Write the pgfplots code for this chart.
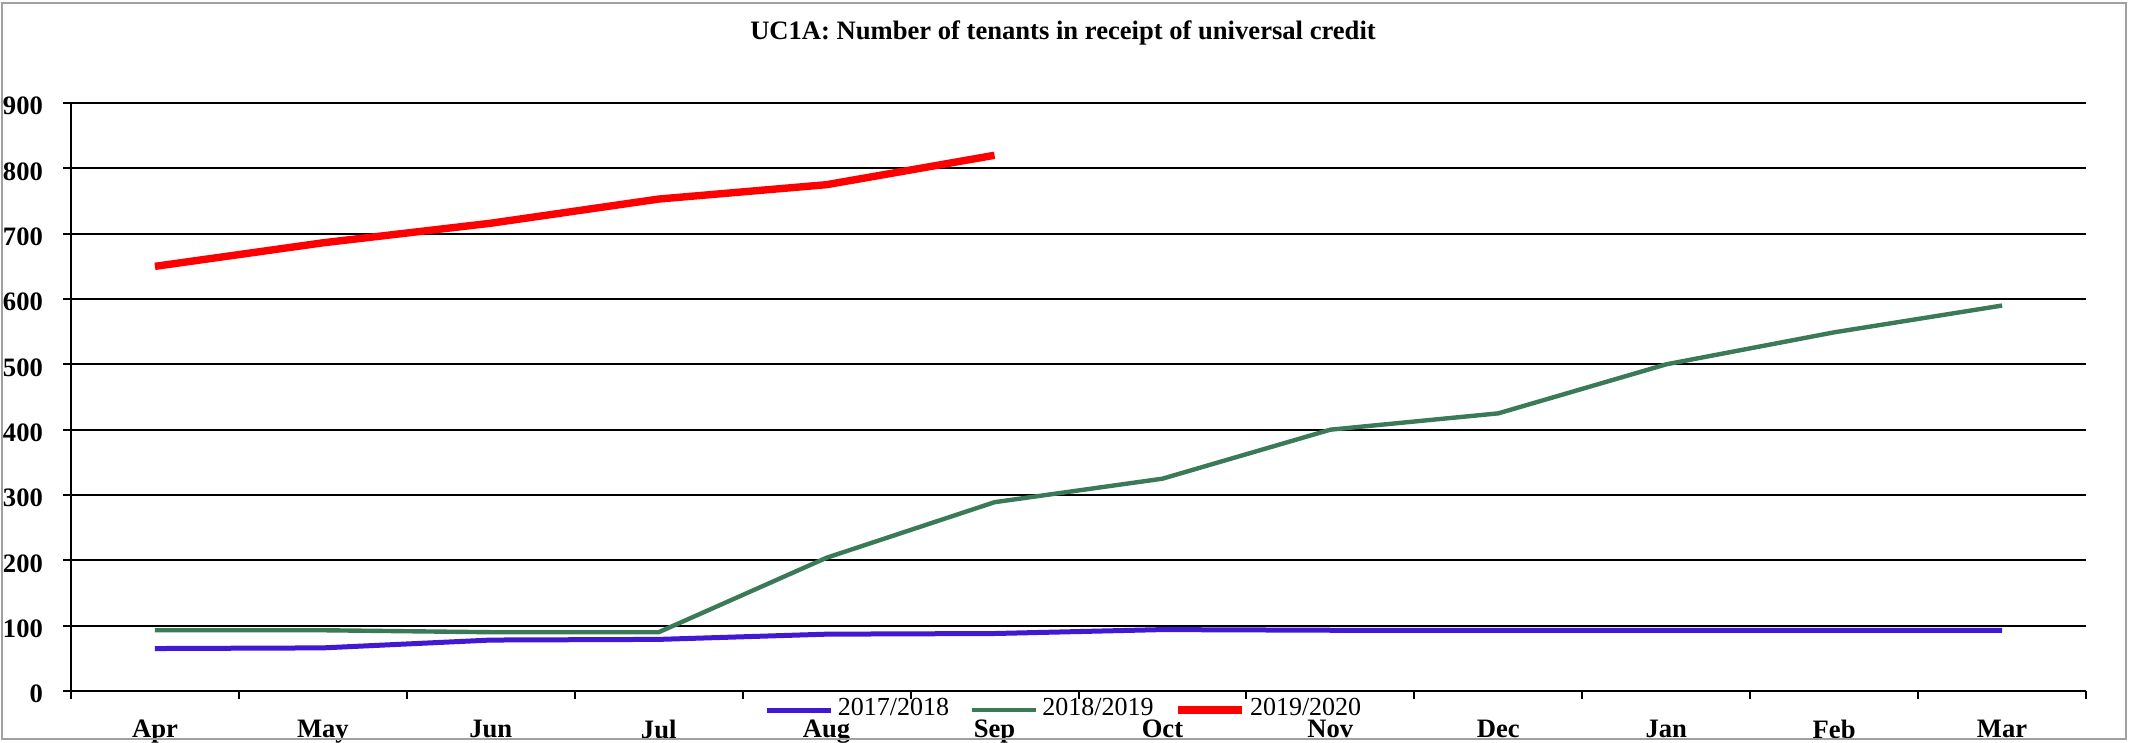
\documentclass[border=0pt]{standalone}
\usepackage{pgfplots}
\pgfplotsset{compat=1.18}
\usepackage{fontspec}
\setmainfont{Liberation Serif}
\definecolor{ucblue}{RGB}{65,25,210}
\definecolor{ucgreen}{RGB}{58,122,87}
\definecolor{framegray}{RGB}{160,160,160}
\newcommand{\fs}{\fontsize{6.5}{7.8}\selectfont}
\newcommand{\fb}{\fontsize{6.65}{8}\selectfont\bfseries}
\begin{document}
\begin{tikzpicture}
\begin{axis}[
  at={(0,0)}, anchor=south west,
  scale only axis,
  width=503.75pt, height=147pt,
  xmin=-0.5, xmax=11.5,
  ymin=0, ymax=900,
  xtick={-0.5,0.5,...,11.5},
  x tick label as interval,
  xticklabels={Apr,May,Jun,Jul,Aug,Sep,Oct,Nov,Dec,Jan,Feb,Mar},
  ytick={0,100,...,900},
  axis x line*=bottom,
  axis y line*=left,
  axis line style={line width=0.7pt, black},
  tick align=outside,
  major tick length=1.9pt,
  tick style={black, line width=0.5pt},
  ymajorgrids,
  grid style={black, line width=0.5pt},
  ticklabel style={font=\fb},
  /pgf/number format/assume math mode=true,
  yticklabel style={xshift=-1.6pt, yshift=-0.8pt},
  xticklabel style={yshift=-1.8pt},
  legend style={at={(0.4933,0)}, anchor=center, yshift=-4.75pt,
    draw=none, fill=none, font=\fs, legend columns=3,
    nodes={inner sep=1pt},
    /tikz/every even column/.append style={column sep=4.25pt},
    inner sep=0pt},
  legend image code/.code={\draw[#1] (0pt,0pt) -- (16pt,0pt);},
  clip=false,
]
\addplot[ucblue, line width=1.25pt] coordinates {
 (0,65) (1,66) (2,78) (3,79) (4,87) (5,88) (6,94) (7,93) (8,93) (9,93) (10,93) (11,93)};
\addlegendentry{2017/2018}
\addplot[ucgreen, line width=1.1pt] coordinates {
 (0,93) (1,93) (2,90) (3,90) (4,204) (5,289) (6,325) (7,400) (8,425) (9,500) (10,549) (11,590)};
\addlegendentry{2018/2019}
\addplot[red, line width=1.85pt] coordinates {
 (0,650) (1,686) (2,716) (3,753) (4,775) (5,820)};
\addlegendentry{2019/2020}
\end{axis}
\node[font=\fb, anchor=center] at (248pt,164.5pt) {UC1A: Number of tenants in receipt of universal credit};
\draw[framegray, line width=0.5pt] (-17.25pt,-12pt) rectangle (513.75pt,172pt);
\pgfresetboundingbox
\path[use as bounding box] (-17.75pt,-12.75pt) rectangle (514.5pt,172.75pt);
\end{tikzpicture}
\end{document}
